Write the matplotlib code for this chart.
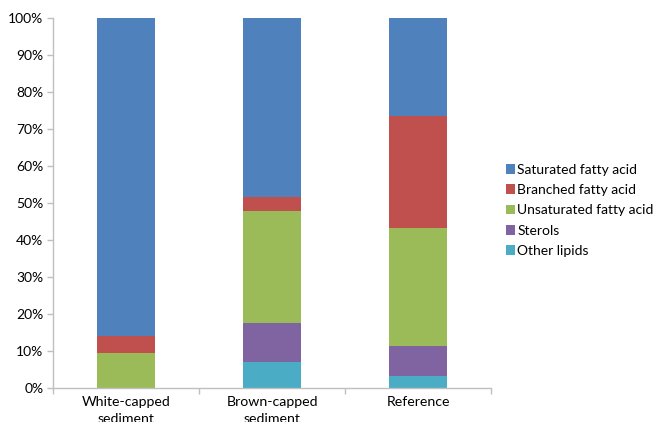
import matplotlib
matplotlib.use("Agg")
import matplotlib.pyplot as plt
import numpy as np
from matplotlib.ticker import FixedLocator, PercentFormatter

plt.rcParams['font.family'] = ['Lato', 'DejaVu Sans']

categories = ["White-capped\nsediment", "Brown-capped\nsediment", "Reference"]
series_names = ["Other lipids", "Sterols", "Unsaturated fatty acid",
                "Branched fatty acid", "Saturated fatty acid"]
other_lipids = [0.0, 7.1, 3.3]
sterols = [0.0, 10.5, 8.0]
unsaturated = [9.4, 30.2, 31.9]
branched = [4.6, 3.8, 30.3]
saturated = [86.0, 48.4, 26.5]
colors = ["#4BACC6", "#8064A2", "#9BBB59", "#C0504D", "#4F81BD"]

series = [other_lipids, sterols, unsaturated, branched, saturated]

fig = plt.figure(figsize=(6.54, 4.22), dpi=100)
ax = fig.add_axes([53 / 654, 34 / 422, 438 / 654, 370 / 422])

x = np.arange(len(categories))
bottom = np.zeros(len(categories))
handles = []
for vals, name, col in zip(series, series_names, colors):
    h = ax.bar(x, vals, width=0.4, bottom=bottom, color=col, label=name,
               linewidth=0)
    handles.append(h)
    bottom += np.array(vals)

ax.set_xlim(-0.5, len(categories) - 0.5)
ax.set_ylim(0, 100)
ax.yaxis.set_major_locator(FixedLocator(np.arange(0, 101, 10)))
ax.yaxis.set_major_formatter(PercentFormatter(decimals=0))

for s in ["top", "right"]:
    ax.spines[s].set_visible(False)
for s in ["left", "bottom"]:
    ax.spines[s].set_color("#BFBFBF")
    ax.spines[s].set_linewidth(1.0)

ax.set_xticks(x)
ax.set_xticklabels(categories, fontsize=10.2, linespacing=1.45)
ax.tick_params(axis="x", length=0, pad=6)
ax.set_xticks(np.arange(-0.5, len(categories), 1.0), minor=True)
ax.tick_params(axis="x", which="minor", length=4, color="#BFBFBF", width=1)
ax.tick_params(axis="y", length=4, color="#BFBFBF", width=1, labelsize=10,
               pad=3)

leg = fig.legend(handles[::-1], series_names[::-1], loc="upper left",
                 bbox_to_anchor=(500 / 654, 1 - 158 / 422), frameon=False,
                 fontsize=10, handlelength=0.7, handleheight=0.7,
                 handletextpad=0.15, labelspacing=0.6, borderaxespad=0)

fig.savefig("out.png", dpi=100)
